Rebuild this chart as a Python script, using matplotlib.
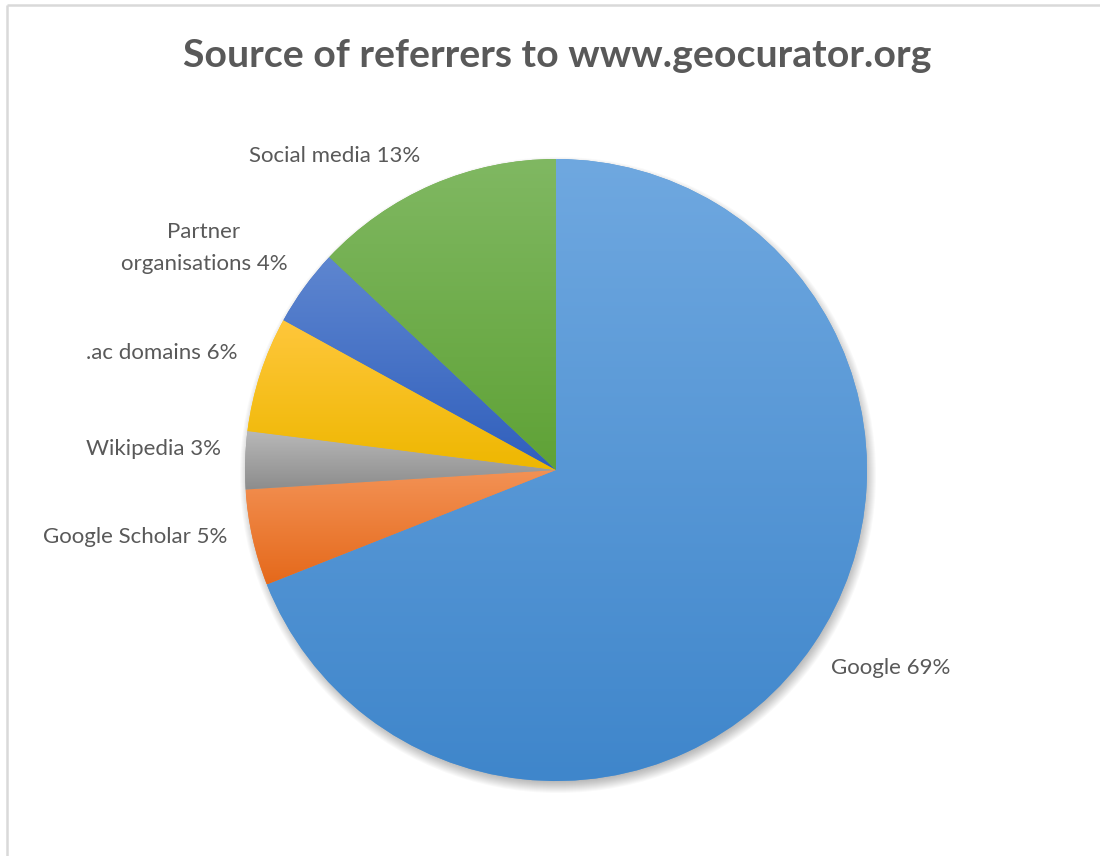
import numpy as np
import matplotlib
matplotlib.use("Agg")
import matplotlib.pyplot as plt
from matplotlib.colors import to_rgb
from matplotlib.patches import Circle

# ---- data ----
title = "Source of referrers to www.geocurator.org"
categories = ["Google", "Google Scholar", "Wikipedia", ".ac domains",
              "Partner\norganisations", "Social media"]
values = [69, 5, 3, 6, 4, 13]
base_colors = ["#5B9BD5", "#ED7D31", "#A5A5A5", "#FFC000", "#4472C4", "#70AD47"]
top_colors = ["#6fa8e0", "#f39255", "#b8b8b8", "#ffc73c", "#5e86d0", "#80b862"]
bottom_colors = ["#3f86cb", "#e5691b", "#8c8c8c", "#eeb700", "#305fbc", "#5fa236"]

# ---- layout ----
W, H = 1100, 856
FONT = "Lato"
TXT = "#595959"
fig = plt.figure(figsize=(W / 100, H / 100), dpi=100)
ax = fig.add_axes([0, 0, 1, 1])

cx, cy, R = 556, H - 470, 311

# soft shadow
for i in range(14):
    ax.add_patch(Circle((cx + 2, cy - 5), R + 7 - i, facecolor="black",
                        alpha=0.022, lw=0, zorder=0.5))

wedges, _ = ax.pie(values, startangle=90, counterclock=False, center=(cx, cy),
                   radius=R, colors=base_colors, wedgeprops=dict(lw=0),
                   frame=True)

# vertical gradient fill per slice
n = 256
t = np.linspace(0, 1, n)[:, None, None]
for w, tc, bc in zip(wedges, top_colors, bottom_colors):
    path = w.get_path().transformed(w.get_patch_transform())
    ext = path.get_extents()
    top = np.array(to_rgb(tc))
    bot = np.array(to_rgb(bc))
    img = top[None, None, :] * (1 - t) + bot[None, None, :] * t
    im = ax.imshow(img, extent=(ext.x0, ext.x1, ext.y0, ext.y1), origin="upper",
                   aspect="auto", interpolation="bilinear", zorder=2)
    im.set_clip_path(w)

# labels (positions in pixel layout)
label_pos = [(891, 668), (135, 537), (154, 449), (162, 353), (204, 248), (335, 156)]
for cat, v, (lx, ly) in zip(categories, values, label_pos):
    ax.text(lx, H - ly, f"{cat} {v}%", ha="center", va="center", fontsize=16,
            color=TXT, family=FONT, linespacing=1.75, zorder=5)

ax.text(557, H - 55, title, ha="center", va="center", fontsize=28.3,
        fontweight="bold", color=TXT, family=FONT, zorder=5)

# chart frame
ax.plot([7, W], [H - 5, H - 5], color="#d9d9d9", lw=1.8, zorder=6,
        solid_capstyle="butt")
ax.plot([7, 7], [H - 5, 0], color="#d9d9d9", lw=1.8, zorder=6,
        solid_capstyle="butt")

ax.set_xlim(0, W)
ax.set_ylim(0, H)
ax.set_aspect("auto")
ax.axis("off")

fig.savefig("out.png", dpi=100, facecolor="white")
